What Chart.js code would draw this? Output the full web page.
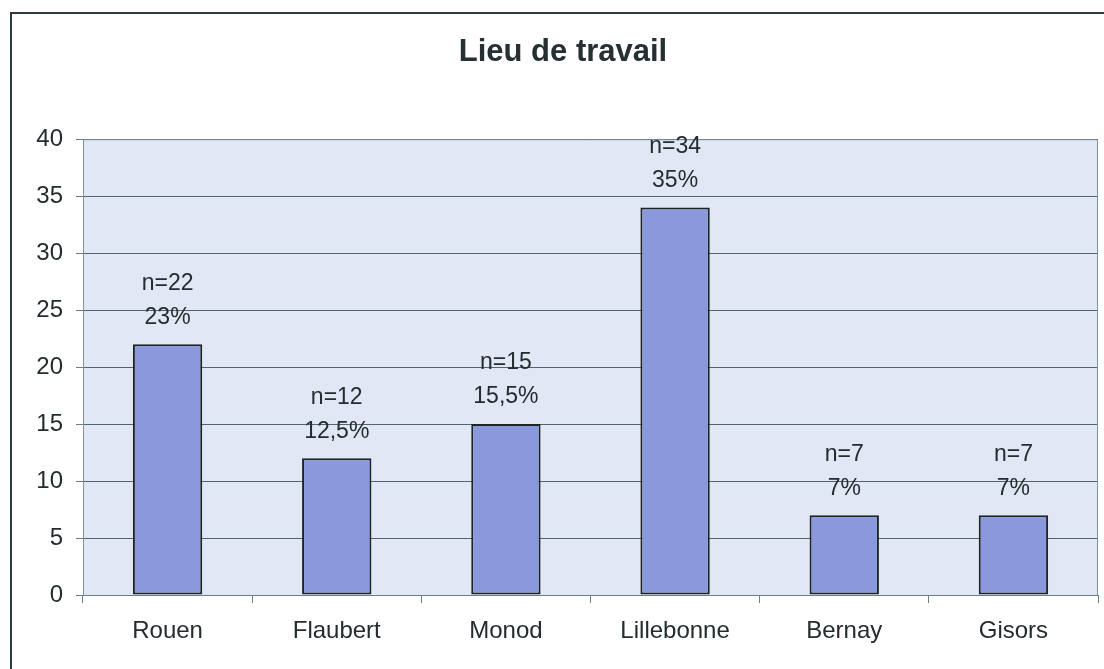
<!DOCTYPE html>
<html>
<head>
<meta charset="utf-8">
<script src="https://cdn.jsdelivr.net/npm/chart.js@4/dist/chart.umd.min.js"></script>
<style>
html,body{margin:0;padding:0;background:#fff;}
#wrap{width:1104px;height:669px;position:relative;}
</style>
</head>
<body>
<div id="wrap"><canvas id="c" width="1104" height="669"></canvas></div>
<script>
const categories = ["Rouen", "Flaubert", "Monod", "Lillebonne", "Bernay", "Gisors"];
const counts = [22, 12, 15, 34, 7, 7];
const countLabels = ["n=22", "n=12", "n=15", "n=34", "n=7", "n=7"];
const percentLabels = ["23%", "12,5%", "15,5%", "35%", "7%", "7%"];
const titleText = "Lieu de travail";

const FONT = "'Liberation Sans', Arial, sans-serif";
const TXT = "#232c2e";

const frame = {
  id: 'frame',
  beforeDraw(chart) {
    const ctx = chart.ctx, a = chart.chartArea;
    ctx.save();
    ctx.fillStyle = '#ffffff';
    ctx.fillRect(0, 0, chart.width, chart.height);
    ctx.strokeStyle = '#2f3a3c';
    ctx.lineWidth = 2;
    ctx.strokeRect(11, 13, chart.width + 20, chart.height + 20);
    ctx.fillStyle = '#e1e7f4';
    ctx.fillRect(a.left, a.top, a.right - a.left, a.bottom - a.top);
    ctx.restore();
  },
  afterDatasetsDraw(chart) {
    const ctx = chart.ctx, a = chart.chartArea;
    ctx.save();
    ctx.strokeStyle = '#7d929b';
    ctx.lineWidth = 1;
    ctx.beginPath();
    ctx.moveTo(a.left + 0.5, a.bottom);
    ctx.lineTo(a.left + 0.5, a.top + 0.5);
    ctx.lineTo(a.right - 0.5, a.top + 0.5);
    ctx.lineTo(a.right - 0.5, a.bottom);
    ctx.stroke();
    const meta = chart.getDatasetMeta(0);
    ctx.fillStyle = TXT;
    ctx.font = "23px " + FONT;
    ctx.textAlign = 'center';
    ctx.textBaseline = 'middle';
    meta.data.forEach((bar, i) => {
      ctx.fillText(countLabels[i], bar.x, bar.y - 61);
      ctx.fillText(percentLabels[i], bar.x, bar.y - 27);
    });
    ctx.restore();
  }
};

new Chart(document.getElementById('c'), {
  type: 'bar',
  data: {
    labels: categories,
    datasets: [{
      data: counts,
      backgroundColor: '#8a99dc',
      borderColor: '#1c2426',
      borderWidth: 2,
      borderSkipped: false,
      categoryPercentage: 1,
      barPercentage: 0.41
    }]
  },
  options: {
    responsive: false,
    animation: false,
    devicePixelRatio: 1,
    layout: { padding: { left: 28, right: 6, top: 0, bottom: 0 } },
    plugins: {
      legend: { display: false },
      tooltip: { enabled: false },
      title: {
        display: true,
        text: titleText,
        color: '#263032',
        font: { family: FONT, size: 31, weight: 'bold', lineHeight: 1.2 },
        padding: { top: 34, bottom: 68 }
      }
    },
    scales: {
      x: {
        afterFit(s) { s.height = 74; },
        border: { display: true, color: '#6a7f88', width: 1 },
        grid: { drawOnChartArea: false, drawTicks: true, tickLength: 8, color: '#6a7f88', offset: true },
        ticks: { color: TXT, font: { family: FONT, size: 24 }, padding: 14 }
      },
      y: {
        min: 0, max: 40,
        afterFit(s) { s.width = 55; },
        border: { display: true, color: '#7d929b', width: 1 },
        grid: { color: '#55646a', lineWidth: 1, tickLength: 7, tickColor: '#6a7f88' },
        ticks: { stepSize: 5, color: TXT, font: { family: FONT, size: 24 }, padding: 13 }
      }
    }
  },
  plugins: [frame]
});
</script>
</body>
</html>
